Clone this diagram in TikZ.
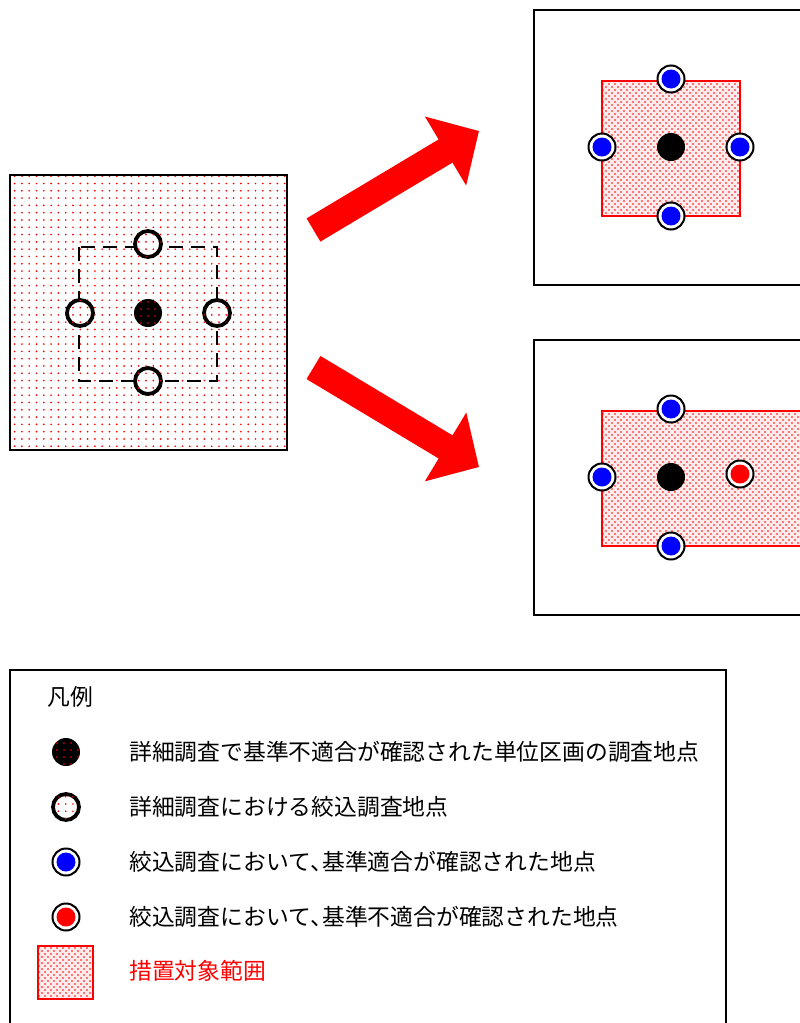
\documentclass[tikz,border=0pt]{standalone}
\usepackage{fontspec}
\newfontfamily\jp{Noto Sans CJK JP}
\usetikzlibrary{patterns.meta,arrows.meta}
\newcommand{\hcomma}{\makebox[0.5em][l]{、}}
\begin{document}
\begin{tikzpicture}[x=1pt,y=-1pt,
  frame/.style={draw=black,line width=2pt},
  sparse/.style={pattern={Dots[distance=7.3pt,radius=0.95pt]},pattern color=red},
  densebase/.style={fill=red!8},
  denseA/.style={pattern={Dots[distance=6pt,radius=0.8pt]},pattern color=red},
  denseB/.style={pattern={Dots[distance=6pt,radius=0.8pt,xshift=3pt,yshift=3pt]},pattern color=red},
  regionline/.style={draw=red,line width=2pt},
  dashbox/.style={draw=black,line width=2.5pt,dash pattern=on 14pt off 8pt},
  detailpt/.style={circle,fill=black,minimum size=28pt,inner sep=0pt},
  dottedpt/.style={detailpt,postaction={pattern={Dots[distance=7pt,radius=0.8pt,xshift=1pt]},pattern color=red}},
  openpt/.style={circle,draw=black,line width=3.8pt,fill=white,minimum size=26pt,inner sep=0pt,
    postaction={pattern={Dots[distance=7.3pt,radius=0.95pt]},pattern color=red}},
  okpt/.style={circle,draw=black,line width=2pt,fill=white,minimum size=27pt,inner sep=0pt,
    path picture={\fill[blue] (path picture bounding box.center) circle (9.5pt);}},
  ngpt/.style={circle,draw=black,line width=2pt,fill=white,minimum size=27pt,inner sep=0pt,
    path picture={\fill[red] (path picture bounding box.center) circle (9.5pt);}},
  bigarrow/.style={red,line width=27pt,-{Triangle[length=39pt,width=78pt]}},
  legtext/.style={anchor=west,inner sep=0pt,font=\jp\fontsize{22.8}{27}\selectfont},
]
\useasboundingbox (0,0) rectangle (800,1023);
\clip (0,0) rectangle (800,1023);

% ---------- left panel ----------
\path[fill=white] (10,175) rectangle (287,450);
\path[sparse] (10,175) rectangle (287,450);
\draw[frame] (10,175) rectangle (287,450);
\draw[dashbox] (79,247) rectangle (217,381);
\node[dottedpt] (L0) at (148,313) {};
\node[openpt] (L1) at (148,244) {};
\node[openpt] (L2) at (80,313) {};
\node[openpt] (L3) at (217,313) {};
\node[openpt] (L4) at (148,381) {};

% ---------- arrows ----------
\coordinate (a1s) at (313.5,230);
\coordinate (a1e) at (479,131);
\coordinate (a2s) at (313.5,367.5);
\coordinate (a2e) at (479,467);
\draw[bigarrow] (a1s) -- (a1e);
\draw[bigarrow] (a2s) -- (a2e);

% ---------- top right panel ----------
\draw[frame] (534,10) rectangle (830,285);
\path[densebase] (602,81) rectangle (740,216);
\path[denseA] (602,81) rectangle (740,216);
\path[denseB] (602,81) rectangle (740,216);
\draw[regionline] (602,81) rectangle (740,216);
\node[detailpt] (T0) at (671,147) {};
\node[okpt] (T1) at (671,79) {};
\node[okpt] (T2) at (602,147) {};
\node[okpt] (T3) at (740,147) {};
\node[okpt] (T4) at (671,216) {};

% ---------- bottom right panel ----------
\draw[frame] (534,340) rectangle (830,615);
\path[densebase] (602,411) rectangle (830,546);
\path[denseA] (602,411) rectangle (830,546);
\path[denseB] (602,411) rectangle (830,546);
\draw[regionline] (602,411) rectangle (830,546);
\node[detailpt] (B0) at (671,477) {};
\node[okpt] (B1) at (671,409) {};
\node[okpt] (B2) at (602,477) {};
\node[ngpt] (B3) at (740,474) {};
\node[okpt] (B4) at (671,546) {};

% ---------- legend ----------
\draw[frame] (10,670) rectangle (726,1040);
\node[legtext] (title) at (47,697) {凡例};
\node[dottedpt] (s1) at (66,752) {};
\node[legtext] (t1) at (129,752) {詳細調査で基準不適合が確認された単位区画の調査地点};
\node[openpt] (s2) at (66,807) {};
\node[legtext] (t2) at (129,807) {詳細調査における絞込調査地点};
\node[okpt] (s3) at (66,862) {};
\node[legtext] (t3) at (129,862) {絞込調査において\hcomma 基準適合が確認された地点};
\node[ngpt] (s4) at (66,917) {};
\node[legtext] (t4) at (129,917) {絞込調査において\hcomma 基準不適合が確認された地点};
\path[densebase] (38,946) rectangle (93,999);
\path[denseA] (38,946) rectangle (93,999);
\path[denseB] (38,946) rectangle (93,999);
\draw[regionline] (38,946) rectangle (93,999);
\coordinate (s5) at (65.5,972.5);
\node[legtext,text=red] (t5) at (129,971) {措置対象範囲};
\end{tikzpicture}
\end{document}
